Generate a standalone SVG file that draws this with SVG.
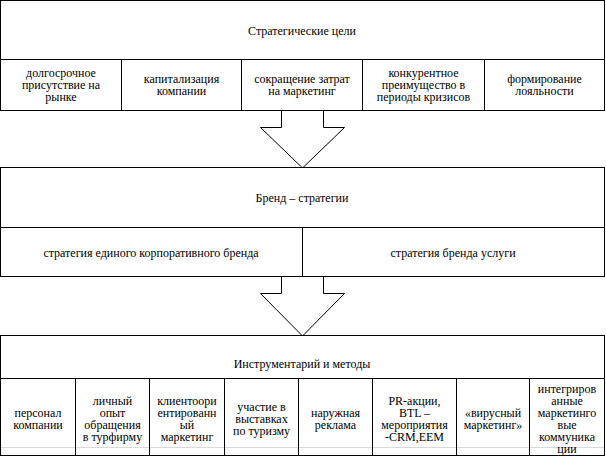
<svg xmlns="http://www.w3.org/2000/svg" width="606" height="461" viewBox="0 0 606 461">
<style>
rect.box{fill:#fff;stroke:#000;stroke-width:1}
line.div{stroke:#000;stroke-width:1}
line.grey{stroke:#d9d9d9;stroke-width:1}
polygon.arrow{fill:#fff;stroke:#000;stroke-width:1}
text{font-family:"Liberation Serif","Times New Roman","DejaVu Serif",serif;font-size:12px;fill:#000;text-anchor:middle}
</style>
<rect x="0" y="0" width="606" height="461" fill="#fff"/>
<g id="connectors">
<polygon class="arrow" points="281.5,110.5 323.5,110.5 323.5,127.5 344.5,127.5 302.5,168 260.5,127.5 281.5,127.5"/>
<polygon class="arrow" points="281.5,276.5 323.5,276.5 323.5,293.5 344.5,293.5 302.5,336 260.5,293.5 281.5,293.5"/>
</g>
<g id="goals">
<rect class="box" x="0.5" y="0.5" width="604" height="110"/>
<line class="div" x1="0.5" y1="59.5" x2="604.5" y2="59.5"/>
<line class="div" x1="121.5" y1="59.5" x2="121.5" y2="110.5"/>
<line class="div" x1="241.5" y1="59.5" x2="241.5" y2="110.5"/>
<line class="div" x1="362.5" y1="59.5" x2="362.5" y2="110.5"/>
<line class="div" x1="484.5" y1="59.5" x2="484.5" y2="110.5"/>
<text x="302" y="35">Стратегические  цели</text>
</g>
<g id="goal-1"><text x="61" y="77">долгосрочное</text><text x="61" y="89">присутствие  на</text><text x="61" y="101">рынке</text></g>
<g id="goal-2"><text x="181.5" y="83">капитализация</text><text x="181.5" y="95">компании</text></g>
<g id="goal-3"><text x="302" y="83">сокращение затрат</text><text x="302" y="95">на маркетинг</text></g>
<g id="goal-4"><text x="423.5" y="77">конкурентное</text><text x="423.5" y="89">преимущество в</text><text x="423.5" y="101">периоды кризисов</text></g>
<g id="goal-5"><text x="544.5" y="83">формирование</text><text x="544.5" y="95">лояльности</text></g>
<g id="brand">
<rect class="box" x="0.5" y="167.5" width="604" height="109"/>
<line class="div" x1="0.5" y1="227.5" x2="604.5" y2="227.5"/>
<line class="div" x1="302.5" y1="227.5" x2="302.5" y2="276.5"/>
<text x="302" y="202">Бренд – стратегии</text>
</g>
<g id="brand-1"><text x="151" y="257">стратегия единого  корпоративного бренда</text></g>
<g id="brand-2"><text x="453" y="257">стратегия бренда услуги</text></g>
<g id="tools">
<rect class="box" x="0.5" y="335.5" width="604" height="120"/>
<line class="div" x1="0.5" y1="378.5" x2="604.5" y2="378.5"/>
<line class="grey" x1="1" y1="447.5" x2="604" y2="447.5"/>
<line class="div" x1="75.5" y1="378.5" x2="75.5" y2="455.5"/>
<line class="div" x1="149.5" y1="378.5" x2="149.5" y2="455.5"/>
<line class="div" x1="224.5" y1="378.5" x2="224.5" y2="455.5"/>
<line class="div" x1="298.5" y1="378.5" x2="298.5" y2="455.5"/>
<line class="div" x1="372.5" y1="378.5" x2="372.5" y2="455.5"/>
<line class="div" x1="456.5" y1="378.5" x2="456.5" y2="455.5"/>
<line class="div" x1="529.5" y1="378.5" x2="529.5" y2="455.5"/>
<text x="302" y="368">Инструментарий и методы</text>
</g>
<g id="tool-1"><text x="38" y="417">персонал</text><text x="38" y="429">компании</text></g>
<g id="tool-2"><text x="112.5" y="405">личный</text><text x="112.5" y="417">опыт</text><text x="112.5" y="429">обращения</text><text x="112.5" y="441">в турфирму</text></g>
<g id="tool-3"><text x="187" y="405">клиентоори</text><text x="187" y="417">ентированн</text><text x="187" y="429">ый</text><text x="187" y="441">маркетинг</text></g>
<g id="tool-4"><text x="261.5" y="411">участие в</text><text x="261.5" y="423">выставках</text><text x="261.5" y="435">по туризму</text></g>
<g id="tool-5"><text x="335.5" y="417">наружная</text><text x="335.5" y="429">реклама</text></g>
<g id="tool-6"><text x="414.5" y="405">PR-акции,</text><text x="414.5" y="417">BTL –</text><text x="414.5" y="429">мероприятия</text><text x="414.5" y="441">-CRM,EEM</text></g>
<g id="tool-7"><text x="493" y="417">«вирусный</text><text x="493" y="429">маркетинг»</text></g>
<g id="tool-8"><text x="567" y="393">интегриров</text><text x="567" y="405">анные</text><text x="567" y="417">маркетинго</text><text x="567" y="429">вые</text><text x="567" y="441">коммуника</text><text x="567" y="453">ции</text></g>
</svg>
